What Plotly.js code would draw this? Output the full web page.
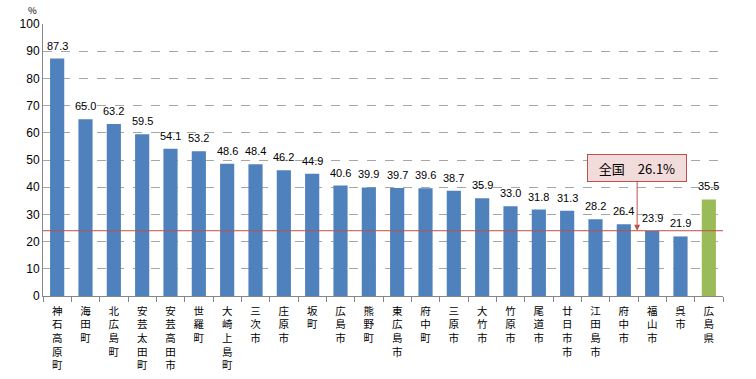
<!DOCTYPE html>
<html><head><meta charset="utf-8">
<script src="https://cdn.plot.ly/plotly-3.0.1.min.js"></script>
<style>html,body{margin:0;padding:0;background:#fff;}</style>
</head><body>
<div id="chart" style="width:756px;height:379px;"></div>
<script>
const categories = ["神石高原町","海田町","北広島町","安芸太田町","安芸高田市","世羅町","大崎上島町","三次市","庄原市","坂町","広島市","熊野町","東広島市","府中町","三原市","大竹市","竹原市","尾道市","廿日市市","江田島市","府中市","福山市","呉市","広島県"];
const values = [87.3,65.0,63.2,59.5,54.1,53.2,48.6,48.4,46.2,44.9,40.6,39.9,39.7,39.6,38.7,35.9,33.0,31.8,31.3,28.2,26.4,23.9,21.9,35.5];
const nationalLabel = "全国　26.1%";
const nationalLineY = 24.0;
const yTicks = [0,10,20,30,40,50,60,70,80,90,100];

const colors = categories.map(c => c === "広島県" ? "#9BBB59" : "#4F81BD");
const verticalLabels = categories.map(c => c.split("").join("<br>"));

const trace = {
  type: "bar",
  x: categories,
  y: values,
  marker: {color: colors},
  hoverinfo: "none"
};

const valueLabels = categories.map((c, i) => ({
  x: c, y: values[i], xref: "x", yref: "y",
  text: values[i].toFixed(1), showarrow: false,
  yanchor: "bottom", xanchor: "center", yshift: 5,
  font: {family: "Liberation Sans, Arial, sans-serif", size: 11, color: "#000"}
}));

const layout = {
  width: 756, height: 379,
  margin: {l: 43, r: 33, t: 24, b: 83, pad: 0},
  paper_bgcolor: "#fff", plot_bgcolor: "#fff",
  showlegend: false,
  bargap: 0.5,
  font: {family: "Liberation Sans, Arial, sans-serif", size: 12, color: "#000"},
  xaxis: {
    type: "category",
    tickmode: "array",
    tickvals: categories,
    ticktext: verticalLabels,
    tickfont: {family: "Noto Sans CJK JP", size: 10.5, color: "#000"},
    ticklabelstandoff: 5,
    showline: true, linecolor: "#868686", linewidth: 1,
    ticks: "outside", tickson: "boundaries", ticklen: 5, tickcolor: "#868686",
    showgrid: false, zeroline: false
  },
  yaxis: {
    range: [0, 100],
    tickvals: yTicks,
    tickfont: {family: "Liberation Sans, Arial, sans-serif", size: 12, color: "#000"},
    showline: true, linecolor: "#868686", linewidth: 1,
    ticks: "", ticklen: 0,
    showgrid: true, gridcolor: "#A6A6A6", griddash: "dash", gridwidth: 1,
    zeroline: false
  },
  shapes: [{
    type: "line", xref: "paper", x0: 0, x1: 1, yref: "y", y0: nationalLineY, y1: nationalLineY,
    line: {color: "#C0504D", width: 1}
  }],
  annotations: valueLabels.concat([
    {
      xref: "paper", yref: "paper", x: -0.015, y: 1.052, text: "%", showarrow: false,
      font: {family: "Noto Sans CJK JP", size: 9.5, color: "#000"}, xanchor: "center", yanchor: "middle"
    },
    {
      x: 20.47, y: nationalLineY, xref: "x", yref: "y",
      text: nationalLabel, showarrow: true, ax: 0, ay: -63,
      arrowhead: 2, arrowsize: 1.2, arrowwidth: 1, arrowcolor: "#C0504D",
      bgcolor: "#F2DCDB", bordercolor: "#C0504D", borderwidth: 1, borderpad: 5,
      width: 88, height: 16,
      font: {family: "Noto Sans CJK JP", size: 13, color: "#000"}
    }
  ])
};

Plotly.newPlot("chart", [trace], layout, {displayModeBar: false, staticPlot: true});
</script>
</body></html>
